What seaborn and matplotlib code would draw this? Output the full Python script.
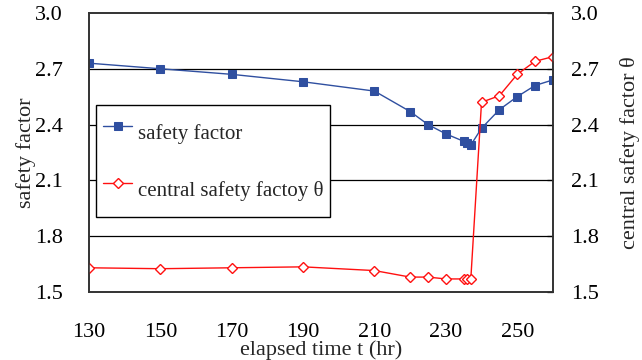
import pandas as pd
import seaborn as sns
import matplotlib.pyplot as plt

# elapsed time (hr)
time_hr = [130, 150, 170, 190, 210, 220, 225, 230, 235, 236, 237, 240, 245, 250, 255, 260]
safety_factor = [2.73, 2.70, 2.67, 2.63, 2.58, 2.47, 2.40, 2.35, 2.31, 2.30, 2.29,
                 2.38, 2.48, 2.55, 2.61, 2.64]
central_factor = [1.63, 1.625, 1.63, 1.635, 1.615, 1.58, 1.58, 1.57, 1.57, 1.57, 1.57,
                  2.52, 2.555, 2.67, 2.74, 2.765]
x_ticks = [130, 150, 170, 190, 210, 230, 250]
y_ticks = [1.5, 1.8, 2.1, 2.4, 2.7, 3.0]

df = pd.DataFrame({"t": time_hr, "sf": safety_factor, "csf": central_factor})

sns.set_style("white")
plt.rcParams['font.family'] = ['Liberation Serif', 'DejaVu Serif']
plt.rcParams['font.size'] = 16

fig = plt.figure(figsize=(6.42, 3.6), dpi=100)
ax = fig.add_axes([0.1386, 0.189, 0.7226, 0.775])
ax2 = ax.twinx()

for y in y_ticks[1:-1]:
    ax.axhline(y, color='black', lw=0.9, zorder=0)

sns.lineplot(data=df, x="t", y="sf", ax=ax, color='#2f4fa0', lw=1.0,
             marker='s', markersize=5.5, markeredgecolor='#2f4fa0',
             label='safety factor', legend=False)
sns.lineplot(data=df, x="t", y="csf", ax=ax2, color='#ff1010', lw=1.0,
             marker='D', markersize=5, markerfacecolor='white',
             markeredgecolor='#ff1010', markeredgewidth=1.0,
             label='central safety factoy θ', legend=False)

for a in (ax, ax2):
    a.set_xlim(130, 260)
    a.set_ylim(1.5, 3.0)
    a.set_yticks(y_ticks)
    a.set_yticklabels(['%.1f' % v for v in y_ticks])
    a.tick_params(direction='in', length=5, width=0.9, colors='black', labelsize=16)
    for s in a.spines.values():
        s.set_color('#333333')
        s.set_linewidth(1.2)

ax.set_xticks(x_ticks)
ax.tick_params(axis='x', pad=22)
ax.tick_params(axis='y', length=0, pad=19)
ax2.tick_params(axis='y', length=4, pad=13)

ax.set_xlabel('elapsed time t (hr)', labelpad=-1)
ax.set_ylabel('safety factor', labelpad=-1)
ax2.set_ylabel('central safety factor θ', labelpad=15)

h1, l1 = ax.get_legend_handles_labels()
h2, l2 = ax2.get_legend_handles_labels()
leg = ax2.legend(h1 + h2, l1 + l2, loc='upper left', bbox_to_anchor=(0.015, 0.67),
                 borderaxespad=0, frameon=True, fancybox=False, edgecolor='black',
                 framealpha=1, labelspacing=0.8, handlelength=1.4, handleheight=2.6,
                 handletextpad=0.25, borderpad=0.35, fontsize=15)
leg.get_frame().set_linewidth(1.0)

fig.savefig('out.png', dpi=100)
